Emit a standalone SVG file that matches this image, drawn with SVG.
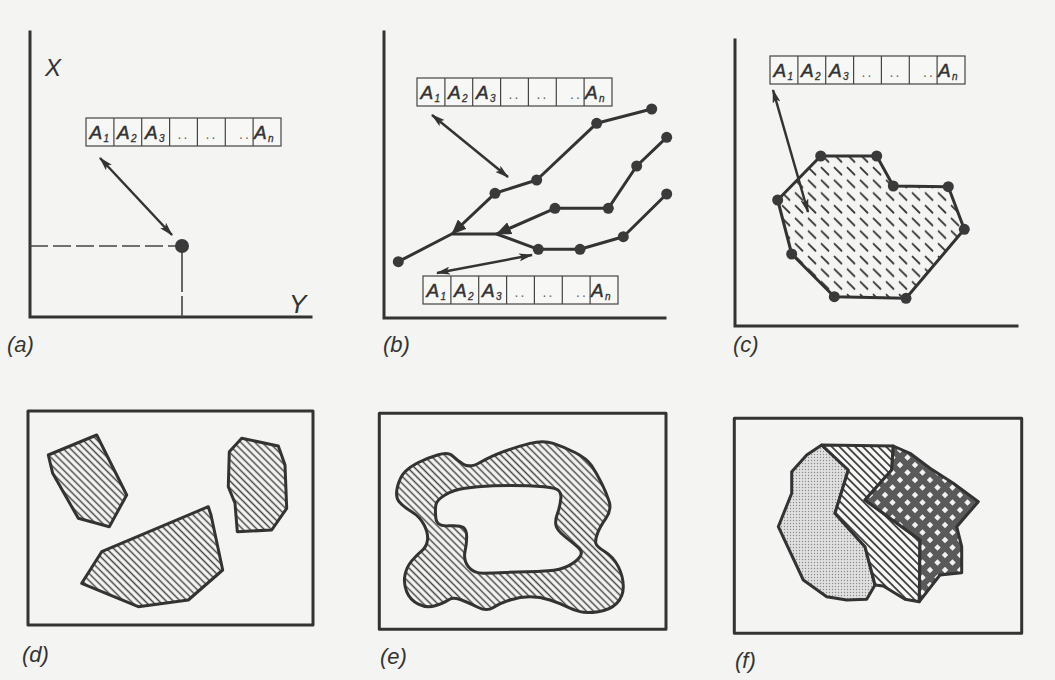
<svg xmlns="http://www.w3.org/2000/svg" width="1055" height="680" viewBox="0 0 1055 680">
<style>
.ln{fill:none;stroke:#333;stroke-width:3;stroke-linejoin:round;stroke-linecap:round}
.ax{fill:none;stroke:#333;stroke-width:3;stroke-linecap:square}
.arr{fill:none;stroke:#333;stroke-width:2.5}
.dash{fill:none;stroke:#444;stroke-width:1.6;stroke-dasharray:18 5}
.tb rect,.tb path{fill:#f7f7f5;stroke:#444;stroke-width:1.2}
.tb path{fill:none}
.A{font-family:"Liberation Sans",Arial,sans-serif;font-style:italic;font-size:19px;fill:#333;stroke:#333;stroke-width:0.5}
.s{font-family:"Liberation Sans",Arial,sans-serif;font-style:italic;font-size:10px;fill:#333;stroke:#333;stroke-width:0.3}
.d{font-family:"Liberation Sans",Arial,sans-serif;font-size:14px;fill:#666;text-anchor:middle;letter-spacing:2px}
.lbl{font-family:"Liberation Sans",Arial,sans-serif;font-style:italic;font-size:22px;fill:#333}
.dot{fill:#3a3a3a}
</style>
<defs>
<marker id="ah" viewBox="0 0 14 8" refX="13" refY="4" markerWidth="14" markerHeight="8" markerUnits="userSpaceOnUse" orient="auto-start-reverse"><path d="M0,0 L14,4 L0,8 L3,4 Z" fill="#333"/></marker>
<marker id="tri" viewBox="0 0 14 12" refX="12" refY="6" markerWidth="15" markerHeight="13" markerUnits="userSpaceOnUse" orient="auto"><path d="M0,0 L14,6 L0,12 Z" fill="#333"/></marker>
<pattern id="hatch" width="5" height="5" patternUnits="userSpaceOnUse" patternTransform="rotate(45)"><rect width="5" height="5" fill="#f7f7f5"/><line x1="0" y1="2.5" x2="5" y2="2.5" stroke="#444" stroke-width="1.5"/></pattern>
<pattern id="hatch2" width="5.5" height="5.5" patternUnits="userSpaceOnUse" patternTransform="rotate(45)"><rect width="5.5" height="5.5" fill="#f7f7f5"/><line x1="0" y1="2.75" x2="5.5" y2="2.75" stroke="#444" stroke-width="1.8"/></pattern>
<pattern id="dashes" width="13" height="12.7" patternUnits="userSpaceOnUse"><rect width="13" height="12.7" fill="#f4f4f2"/><line x1="2.5" y1="2.5" x2="9.5" y2="9.5" stroke="#3a3a3a" stroke-width="1.8" stroke-linecap="round"/></pattern>
<pattern id="stip" width="3" height="3" patternUnits="userSpaceOnUse"><rect width="3" height="3" fill="#e0e0e0"/><circle cx="1.5" cy="1.5" r="0.7" fill="#8a8a8a"/></pattern>
<pattern id="cross" width="15" height="15" patternUnits="userSpaceOnUse"><rect width="15" height="15" fill="#5a5a5a"/><path d="M7.5,4.3 L10.7,7.5 L7.5,10.7 L4.3,7.5 Z M0,-3.2 L3.2,0 L0,3.2 L-3.2,0 Z M15,-3.2 L18.2,0 L15,3.2 L11.8,0 Z M0,11.8 L3.2,15 L0,18.2 L-3.2,15 Z M15,11.8 L18.2,15 L15,18.2 L11.8,15 Z" fill="#f2f2f2"/></pattern>
</defs>
<rect width="1055" height="680" fill="#f4f4f2"/>

<!-- Panel (a) -->
<g id="panel-a">
  <path class="ax" d="M30,32 V317 H311"/>
  <text class="lbl" x="45" y="76" style="font-size:24px">X</text>
  <text class="lbl" x="289" y="313" style="font-size:26px">Y</text>
  <path class="dash" d="M30,246 H176"/>
  <path class="dash" d="M182,252 V317" style="stroke-dasharray:40 4"/>
  <text class="lbl" x="7" y="352">(a)</text>
</g>
<g id="point-a"><circle class="dot" cx="182" cy="246" r="7"/></g>
<g id="table-a" class="tb" transform="translate(86,118)">
  <rect width="195" height="28"/>
  <path d="M27.9,0V28M55.7,0V28M83.6,0V28M111.4,0V28M139.3,0V28M167.1,0V28"/>
  <text class="A" x="3.5" y="21">A</text><text class="s" x="17.5" y="24">1</text>
  <text class="A" x="31" y="21">A</text><text class="s" x="45" y="24">2</text>
  <text class="A" x="59" y="21">A</text><text class="s" x="73" y="24">3</text>
  <text class="d" x="97.5" y="21">..</text>
  <text class="d" x="125.4" y="21">..</text>
  <text class="d" x="159" y="21">..</text>
  <text class="A" x="168" y="21">A</text><text class="s" x="182" y="24">n</text>
</g>

<!-- Panel (b) -->
<g id="panel-b">
  <path class="ax" d="M384,32 V318 H665"/>
  <text class="lbl" x="383" y="352">(b)</text>
</g>
<g id="table-b1" class="tb" transform="translate(417,78)">
  <rect width="195" height="28"/>
  <path d="M27.9,0V28M55.7,0V28M83.6,0V28M111.4,0V28M139.3,0V28M167.1,0V28"/>
  <text class="A" x="3.5" y="21">A</text><text class="s" x="17.5" y="24">1</text>
  <text class="A" x="31" y="21">A</text><text class="s" x="45" y="24">2</text>
  <text class="A" x="59" y="21">A</text><text class="s" x="73" y="24">3</text>
  <text class="d" x="97.5" y="21">..</text>
  <text class="d" x="125.4" y="21">..</text>
  <text class="d" x="159" y="21">..</text>
  <text class="A" x="168" y="21">A</text><text class="s" x="182" y="24">n</text>
</g>
<g id="table-b2" class="tb" transform="translate(423,276)">
  <rect width="195" height="28"/>
  <path d="M27.9,0V28M55.7,0V28M83.6,0V28M111.4,0V28M139.3,0V28M167.1,0V28"/>
  <text class="A" x="3.5" y="21">A</text><text class="s" x="17.5" y="24">1</text>
  <text class="A" x="31" y="21">A</text><text class="s" x="45" y="24">2</text>
  <text class="A" x="59" y="21">A</text><text class="s" x="73" y="24">3</text>
  <text class="d" x="97.5" y="21">..</text>
  <text class="d" x="125.4" y="21">..</text>
  <text class="d" x="159" y="21">..</text>
  <text class="A" x="168" y="21">A</text><text class="s" x="182" y="24">n</text>
</g>
<g id="network-b">
  <path class="ln" d="M398.3,261.7 L451.7,234 L496.7,234"/>
  <path class="ln" d="M651.7,109 L596.7,123.3 L536.7,180 L495,193.3 L453,233" marker-end="url(#tri)"/>
  <path class="ln" d="M666.7,137.3 L636.7,166 L608.3,208.3 L555,208.3 L498,233.4" marker-end="url(#tri)"/>
  <path class="ln" d="M496.7,234 L538.3,249.3 L580,249.3 L623.3,236.7 L666.7,194"/>
  <g class="dot">
    <circle cx="398.3" cy="261.7" r="5.5"/><circle cx="495" cy="193.3" r="5.5"/><circle cx="536.7" cy="180" r="5.5"/>
    <circle cx="596.7" cy="123.3" r="5.5"/><circle cx="651.7" cy="109" r="5.5"/><circle cx="555" cy="208.3" r="5.5"/>
    <circle cx="608.3" cy="208.3" r="5.5"/><circle cx="636.7" cy="166" r="5.5"/><circle cx="666.7" cy="137.3" r="5.5"/>
    <circle cx="538.3" cy="249.3" r="5.5"/><circle cx="580" cy="249.3" r="5.5"/><circle cx="623.3" cy="236.7" r="5.5"/>
    <circle cx="666.7" cy="194" r="5.5"/>
  </g>
</g>

<!-- Panel (c) -->
<g id="panel-c">
  <path class="ax" d="M735,40 V326 H1017"/>
  <text class="lbl" x="733" y="352">(c)</text>
</g>
<g id="table-c" class="tb" transform="translate(770,56)">
  <rect width="195" height="28"/>
  <path d="M27.9,0V28M55.7,0V28M83.6,0V28M111.4,0V28M139.3,0V28M167.1,0V28"/>
  <text class="A" x="3.5" y="21">A</text><text class="s" x="17.5" y="24">1</text>
  <text class="A" x="31" y="21">A</text><text class="s" x="45" y="24">2</text>
  <text class="A" x="59" y="21">A</text><text class="s" x="73" y="24">3</text>
  <text class="d" x="97.5" y="21">..</text>
  <text class="d" x="125.4" y="21">..</text>
  <text class="d" x="159" y="21">..</text>
  <text class="A" x="168" y="21">A</text><text class="s" x="182" y="24">n</text>
</g>
<g id="polygon-c">
  <path class="ln" style="fill:url(#dashes)" d="M820.7,156 L876.7,156 L893.3,186 L948.3,186.7 L964.3,229.3 L906,298.3 L834.3,296.7 L791.7,254 L777.7,200 Z"/>
  <g class="dot">
    <circle cx="820.7" cy="156" r="5.5"/><circle cx="876.7" cy="156" r="5.5"/><circle cx="893.3" cy="186" r="5.5"/>
    <circle cx="948.3" cy="186.7" r="5.5"/><circle cx="964.3" cy="229.3" r="5.5"/><circle cx="906" cy="298.3" r="5.5"/>
    <circle cx="834.3" cy="296.7" r="5.5"/><circle cx="791.7" cy="254" r="5.5"/><circle cx="777.7" cy="200" r="5.5"/>
  </g>
</g>

<!-- Connectors (attribute links) -->
<g id="connectors">
  <line class="arr" x1="100" y1="158" x2="172" y2="235" marker-start="url(#ah)" marker-end="url(#ah)"/>
  <line class="arr" x1="432" y1="115" x2="508" y2="177" marker-start="url(#ah)" marker-end="url(#ah)"/>
  <line class="arr" x1="437" y1="273" x2="532" y2="255" marker-start="url(#ah)" marker-end="url(#ah)"/>
  <line class="arr" x1="773" y1="90" x2="808" y2="212" marker-start="url(#ah)" marker-end="url(#ah)"/>
</g>

<!-- Panel (d) -->
<g id="panel-d">
  <rect class="ln" x="28" y="411" width="285" height="214"/>
  <path class="ln" style="fill:url(#hatch)" d="M48.3,455 L96.7,435 L126.7,495 L109.3,526.7 L78.3,518.3 L52.7,473.3 Z"/>
  <path class="ln" style="fill:url(#hatch)" d="M241.7,438.3 L278.3,446 L285,465 L286.7,508.3 L271.7,530 L237.3,531.7 L235,503.3 L228.3,486.7 L229.3,451.7 Z"/>
  <path class="ln" style="fill:url(#hatch)" d="M101.7,551.7 L208.3,506.7 L211,515 L222.7,570 L188.3,600 L138.3,606.7 L81.7,583.3 Z"/>
  <text class="lbl" x="22" y="662">(d)</text>
</g>

<!-- Panel (e) -->
<g id="panel-e">
  <rect class="ln" x="379.3" y="413.3" width="286.7" height="216"/>
  <path class="ln" style="fill:url(#hatch);fill-rule:evenodd" d="M399.15,501.7 Q395,496.7 397.5,486.7 Q400,476.7 405,471.7 Q410,466.7 418.35,462.5 Q426.7,458.3 437.5,455 Q448.3,451.7 452.5,455.85 Q456.7,460 463.35,464.15 Q470,468.3 480,462.5 Q490,456.7 503.35,451.7 Q516.7,446.7 530,443.35 Q543.3,440 553.3,443.35 Q563.3,446.7 575,452.5 Q586.7,458.3 591.7,465.8 Q596.7,473.3 601.7,483.3 Q606.7,493.3 609.2,501.65 Q611.7,510 605.85,518.35 Q600,526.7 597.5,533.35 Q595,540 595.850,543.35 Q596.7,546.7 605,551.7 Q613.3,556.7 618.3,566.7 Q623.3,576.7 623.3,586.7 Q623.3,596.7 616.65,603.35 Q610,610 598.35,611.65 Q586.7,613.3 580,611.65 Q573.3,610 566.65,606.65 Q560,603.3 550,600 Q540,596.7 530,596.7 Q520,596.7 510,600 Q500,603.3 493.35,607.5 Q486.7,611.7 478.35,607.5 Q470,603.3 461.65,600 Q453.3,596.7 448.3,600 Q443.3,603.3 435,605.8 Q426.7,608.3 418.35,604.15 Q410,600 406.65,591.65 Q403.3,583.3 405,575 Q406.7,566.7 411.7,560.85 Q416.7,555 421.7,550.85 Q426.7,546.7 427.5,540 Q428.3,533.3 424.15,525 Q420,516.7 411.65,511.7 Q403.3,506.7 399.15,501.7 Z M435.85,518.35 Q435,510 435.85,505 Q436.7,500 445,495 Q453.3,490 465,488.35 Q476.7,486.7 493.35,485.85 Q510,485 528.35,485.85 Q546.7,486.7 554.2,488.35 Q561.7,490 560.85,498.35 Q560,506.7 557.5,513.35 Q555,520 555.85,525 Q556.7,530 565,536.65 Q573.3,543.3 578.3,547.5 Q583.3,551.7 580,556.7 Q576.7,561.7 568.35,565.85 Q560,570 548.35,570.85 Q536.7,571.7 526.7,571.7 Q516.7,571.7 505,572.5 Q493.3,573.3 483.3,573.3 Q473.3,573.3 468.3,566.65 Q463.3,560 465,551.65 Q466.7,543.3 466.7,536.65 Q466.7,530 463.35,527.5 Q460,525 448.35,525.85 Q436.7,526.7 435.85,518.35 Z"/>
  <text class="lbl" x="380" y="664">(e)</text>
</g>

<!-- Panel (f) -->
<g id="panel-f">
  <rect class="ln" x="734.3" y="418.3" width="287.4" height="215"/>
  <path class="ln" style="fill:url(#stip)" d="M821.7,445 L848.3,470 L835,513.3 L865,546.7 L875,585 L866.7,599.3 L846.7,600 L826.7,596.7 L803.3,580 L778.3,526.7 L791.7,493.3 L791.7,471.7 L806.7,455 Z"/>
  <path class="ln" style="fill:url(#hatch2)" d="M821.7,445 L893.3,446 L891.7,470 L865,500 L920,540 L919.3,601.7 L905,599.3 L883.3,586 L875,585 L865,546.7 L835,513.3 L848.3,470 Z"/>
  <path class="ln" style="fill:url(#cross)" d="M893.3,446 L910,453.3 L930,468.3 L953.3,483.3 L978.3,501.7 L956.7,526.7 L961.7,546.7 L961.7,572.7 L940,575 L919.3,601.7 L920,540 L865,500 L891.7,470 Z"/>
  <text class="lbl" x="735" y="668">(f)</text>
</g>
</svg>
